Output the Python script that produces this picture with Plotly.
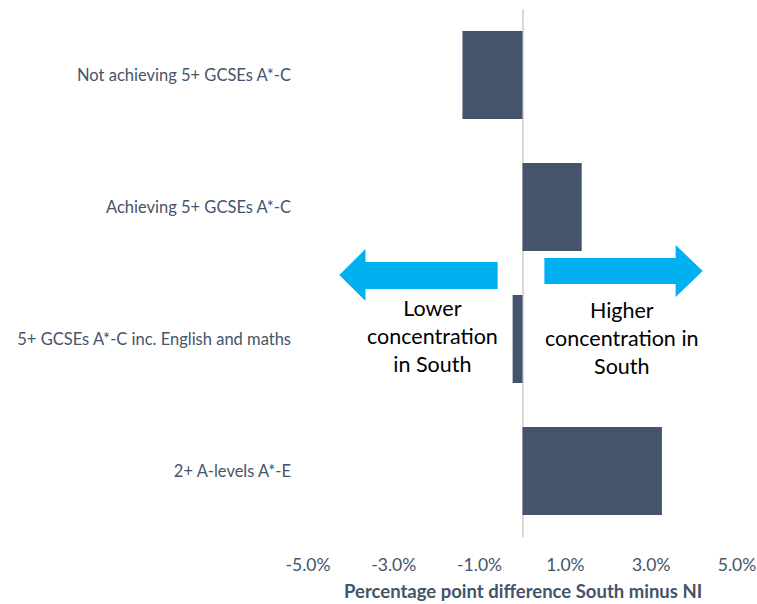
import plotly.graph_objects as go

# Data
categories = [
    "Not achieving 5+ GCSEs A*-C",
    "Achieving 5+ GCSEs A*-C",
    "5+ GCSEs A*-C inc. English and maths",
    "2+ A-levels A*-E",
]
diff_pp = [-1.4, 1.38, -0.23, 3.25]
tick_vals = [-5, -3, -1, 1, 3, 5]
tick_text = ["-5.0%", "-3.0%", "-1.0%", "1.0%", "3.0%", "5.0%"]

bar_color = "#44546a"
label_color = "#44546a"
arrow_color = "#00b0f0"
font_family = "Lato, 'Open Sans', sans-serif"

fig = go.Figure()
fig.add_trace(go.Bar(
    y=categories,
    x=diff_pp,
    orientation="h",
    marker=dict(color=bar_color, line=dict(width=0)),
    width=0.667,
    hovertemplate="%{y}: %{x:.1f}<extra></extra>",
))

# arrows (x in data units, y in paper units)
left_arrow = ("M -4.27,0.4962 L -3.66,0.5455 L -3.66,0.5208 L -0.58,0.5208 "
              "L -0.58,0.4697 L -3.66,0.4697 L -3.66,0.4470 Z")
right_arrow = ("M 4.20,0.5038 L 3.57,0.5530 L 3.57,0.5284 L 0.51,0.5284 "
               "L 0.51,0.4792 L 3.57,0.4792 L 3.57,0.4545 Z")
for p in (left_arrow, right_arrow):
    fig.add_shape(type="path", path=p, xref="x", yref="paper",
                  fillcolor=arrow_color, line=dict(width=0), layer="above")

fig.add_annotation(x=-2.10, y=0.3807, xref="x", yref="paper",
                   text="Lower<br>concentration<br>in South", showarrow=False,
                   font=dict(size=21.5, color="#000000", family=font_family), align="center")
fig.add_annotation(x=2.33, y=0.3769, xref="x", yref="paper",
                   text="Higher<br>concentration in<br>South", showarrow=False,
                   font=dict(size=21.5, color="#000000", family=font_family), align="center")

# axis title placed as an annotation so the margins stay fixed
fig.add_annotation(x=0.5, y=-0.102, xref="paper", yref="paper",
                   text="<b>Percentage point difference South minus NI</b>",
                   showarrow=False, yanchor="middle", borderpad=0,
                   font=dict(size=18.5, color=label_color, family=font_family))

fig.update_layout(
    width=757,
    height=604,
    margin=dict(l=308, r=20, t=9, b=67),
    plot_bgcolor="white",
    paper_bgcolor="white",
    showlegend=False,
    font=dict(family=font_family, color=label_color),
    xaxis=dict(
        range=[-5, 5],
        tickvals=tick_vals,
        ticktext=tick_text,
        showgrid=False,
        zeroline=True,
        zerolinecolor="#d9d9d9",
        zerolinewidth=2,
        showline=False,
        automargin=False,
        ticklabelstandoff=15,
        tickfont=dict(size=17.5, color=label_color),
    ),
    yaxis=dict(
        categoryorder="array",
        categoryarray=categories,
        autorange="reversed",
        showgrid=False,
        showline=False,
        automargin=False,
        ticks="",
        ticklabelstandoff=16,
        tickfont=dict(size=16.5, color=label_color),
    ),
)

# drop the default body margin so the figure sits at the page origin
fig.write_html(
    "out.html",
    config={"displayModeBar": False},
    post_script="document.body.style.margin='0';document.body.style.overflow='hidden';",
)
